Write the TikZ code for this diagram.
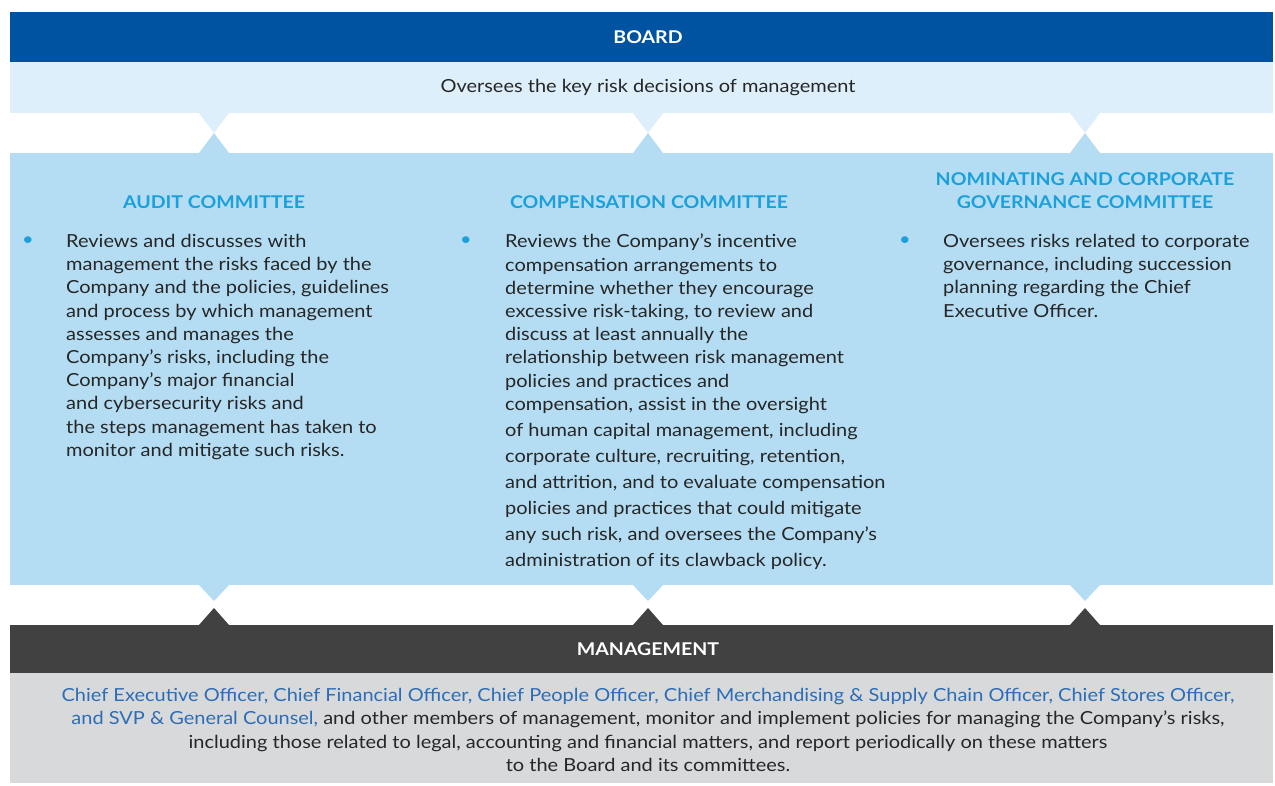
\documentclass[tikz,border=0pt]{standalone}
\usepackage{fontspec}
\setmainfont{Lato}[FakeStretch=1.11]
\usetikzlibrary{positioning,calc}
\definecolor{boardblue}{RGB}{0,83,160}
\definecolor{paleblue}{RGB}{221,239,250}
\definecolor{cttblue}{RGB}{180,221,243}
\definecolor{headcyan}{RGB}{27,160,220}
\definecolor{mgmtgrey}{RGB}{65,65,66}
\definecolor{footgrey}{RGB}{216,217,219}
\definecolor{nameblue}{RGB}{44,109,181}
\definecolor{bodyink}{RGB}{38,38,38}
\newcommand{\ncolor}{\color{nameblue}}
\tikzset{
	band/.style={
		rectangle,
		inner sep=0pt,
		outer sep=0pt,
		anchor=north west,
		minimum width=1263pt,
	},
	bartitle/.style={
		inner sep=0pt,
		text=white,
		font=\bfseries\fontsize{17.6}{20}\selectfont,
	},
	cttitle/.style={
		inner sep=0pt,
		align=center,
		text=headcyan,
		font=\bfseries\fontsize{17.6}{23}\selectfont,
	},
	bodytext/.style={
		inner sep=0pt,
		anchor=north west,
		align=left,
		text=bodyink,
		font=\fontsize{18}{23.2}\selectfont,
	},
	foottext/.style={
		inner sep=0pt,
		anchor=north,
		align=center,
		text=bodyink,
		font=\fontsize{18}{23.3}\selectfont,
	},
	dot/.style={
		inner sep=0pt,
		text=headcyan,
		font=\fontsize{18}{20}\selectfont,
	},
}
\begin{document}
\begin{tikzpicture}[x=1pt,y=-1pt]
\useasboundingbox (0,0) rectangle (1275,785);
\fill[white] (0,0) rectangle (1275,785);

\node[band,fill=boardblue,minimum height=50pt] (board) at (10,12) {};
\node[band,fill=paleblue,minimum height=51pt] (over) at (10,62) {};
\node[band,fill=cttblue,minimum height=432pt] (ctt) at (10,153) {};
\node[band,fill=mgmtgrey,minimum height=48pt] (mgmt) at (10,625) {};
\node[band,fill=footgrey,minimum height=110pt] (foot) at (10,673) {};

\foreach \cx in {214,648,1085} {
  \fill[paleblue] (\cx-15,113) -- (\cx+15,113) -- (\cx,133) -- cycle;
  \fill[cttblue] (\cx-15,153) -- (\cx+15,153) -- (\cx,133) -- cycle;
  \fill[cttblue] (\cx-15,585) -- (\cx+15,585) -- (\cx,601) -- cycle;
  \fill[mgmtgrey] (\cx-15,625) -- (\cx+15,625) -- (\cx,608) -- cycle;
}

\node[bartitle] (boardlbl) at (648,37) {BOARD};
\node[inner sep=0pt,text=bodyink,font=\fontsize{18}{20}\selectfont] (overlbl) at (648,88) {Oversees the key risk decisions of management};

\node[cttitle] (audit) at (214,202) {AUDIT COMMITTEE};
\node[cttitle] (comp) at (649,202) {COMPENSATION COMMITTEE};
\node[cttitle] (nomin) at (1085,191) {NOMINATING AND CORPORATE\\GOVERNANCE COMMITTEE};

\node[dot] (auditdot) at (28,241) {\textbullet};
\node[dot] (compdot) at (466,241) {\textbullet};
\node[dot] (nomindot) at (905,241) {\textbullet};

\node[bodytext] (audittxt) at (66,234) {Reviews and discusses with\\
management the risks faced by the\\
Company and the policies, guidelines\\
and process by which management\\
assesses and manages the\\
Company's risks, including the\\
Company's major financial\\
and cybersecurity risks and\\
the steps management has taken to\\
monitor and mitigate such risks.};

\node[bodytext] (comptxt) at (505,234) {Reviews the Company's incentive\\
compensation arrangements to\\
determine whether they encourage\\
excessive risk-taking, to review and\\
discuss at least annually the\\
relationship between risk management\\
policies and practices and\\
compensation, assist in the oversight\\[2.8pt]
of human capital management, including\\[2.8pt]
corporate culture, recruiting, retention,\\[2.8pt]
and attrition, and to evaluate compensation\\[2.8pt]
policies and practices that could mitigate\\[2.8pt]
any such risk, and oversees the Company's\\[2.8pt]
administration of its clawback policy.};

\node[bodytext] (nomintxt) at (943,234) {Oversees risks related to corporate\\
governance, including succession\\
planning regarding the Chief\\
Executive Officer.};

\node[bartitle] (mgmtlbl) at (648,649) {MANAGEMENT};

\node[foottext] (foottxt) at (648,688) {{\ncolor Chief Executive Officer, Chief Financial Officer, Chief People Officer, Chief Merchandising \& Supply Chain Officer, Chief Stores Officer,}\\
{\ncolor and SVP \& General Counsel,} and other members of management, monitor and implement policies for managing the Company's risks,\\
including those related to legal, accounting and financial matters, and report periodically on these matters\\
to the Board and its committees.};

\end{tikzpicture}
\end{document}
